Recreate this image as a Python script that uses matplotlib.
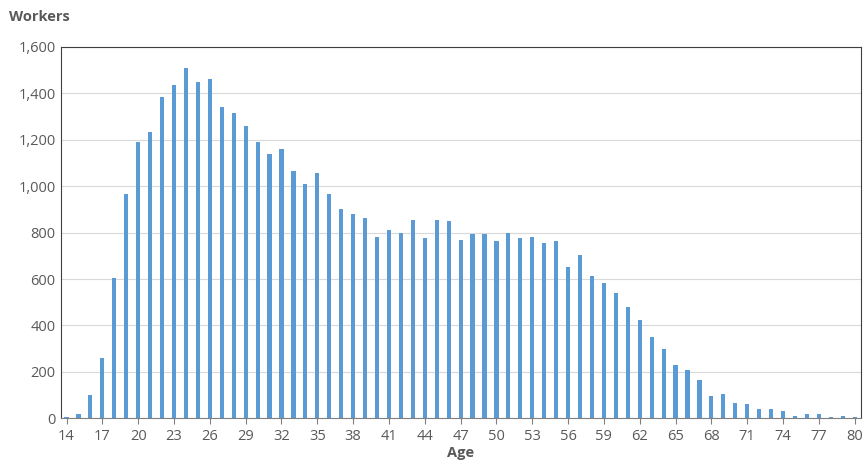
import numpy as np
import matplotlib.pyplot as plt
from matplotlib.ticker import FuncFormatter

# ages and worker counts
ages = list(range(14, 81))
workers = [5, 18, 100, 258, 605, 968, 1190, 1235, 1385, 1435, 1510, 1450, 1460,
           1340, 1315, 1260, 1190, 1140, 1160, 1065, 1010, 1055, 968, 900, 880,
           865, 780, 810, 800, 855, 775, 855, 850, 770, 795, 795, 765, 800, 778,
           783, 757, 763, 653, 703, 615, 583, 540, 478, 423, 350, 300, 228, 208,
           165, 97, 103, 67, 60, 42, 42, 30, 12, 17, 18, 7, 8, 7]

plt.rcParams['font.family'] = ['Open Sans', 'DejaVu Sans']
grey = '#595959'

fig = plt.figure(figsize=(8.65, 4.7), dpi=100)
ax = fig.add_axes([0.07, 0.11, 0.925, 0.79])
ax.bar(ages, workers, width=0.35, color='#5B9BD5', zorder=2)

ax.set_xlim(13.5, 80.5)
ax.set_ylim(0, 1600)
ax.set_yticks(range(0, 1601, 200))
ax.yaxis.set_major_formatter(FuncFormatter(lambda v, p: f'{int(v):,}'))
ax.set_xticks(ages[::3])
ax.grid(axis='y', color='#D9D9D9', linewidth=0.8, zorder=0)
ax.tick_params(axis='both', colors=grey, labelsize=10.5, length=0)
ax.tick_params(axis='x', length=4, color='#808080')
for s in ['top', 'right', 'left']:
    ax.spines[s].set_color('#404040')
    ax.spines[s].set_linewidth(0.8)
ax.spines['bottom'].set_color('#808080')

ax.set_xlabel('Age', color=grey, fontsize=10.5, fontweight='bold', labelpad=2)
fig.text(0.01, 0.955, 'Workers', color=grey, fontsize=10.5, fontweight='bold')

fig.savefig('out.png')
